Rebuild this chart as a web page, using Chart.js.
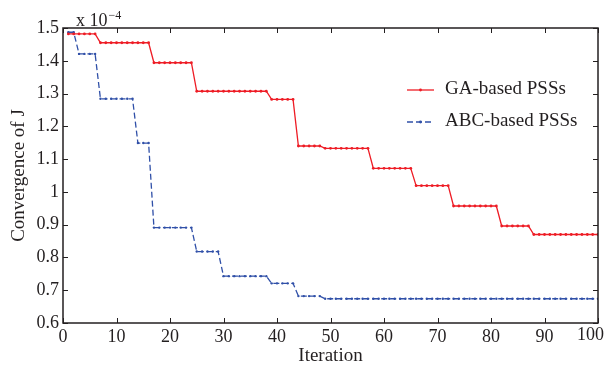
<!DOCTYPE html>
<html>
<head>
<meta charset="utf-8">
<script src="https://cdn.jsdelivr.net/npm/chart.js@4"></script>
<style>
  html, body { margin: 0; padding: 0; background: #fff; }
  #wrap { width: 608px; height: 368px; }
</style>
</head>
<body>
<div id="wrap"><canvas id="conv"></canvas></div>
<script>
// iteration axis
const iterations = Array.from({length: 100}, (_, i) => i + 1);
const xTicks = [0, 10, 20, 30, 40, 50, 60, 70, 80, 90, 100];
const yTicks = [0.6, 0.7, 0.8, 0.9, 1.0, 1.1, 1.2, 1.3, 1.4, 1.5];

// values in units of 1e-4
const gaVals = [
  1.482, 1.482, 1.482, 1.482, 1.482, 1.482,
  1.455, 1.455, 1.455, 1.455, 1.455, 1.455, 1.455, 1.455, 1.455, 1.455,
  1.394, 1.394, 1.394, 1.394, 1.394, 1.394, 1.394, 1.394,
  1.307, 1.307, 1.307, 1.307, 1.307, 1.307, 1.307, 1.307, 1.307, 1.307, 1.307, 1.307, 1.307, 1.307,
  1.282, 1.282, 1.282, 1.282, 1.282,
  1.140, 1.140, 1.140, 1.140, 1.140,
  1.133, 1.133, 1.133, 1.133, 1.133, 1.133, 1.133, 1.133, 1.133,
  1.072, 1.072, 1.072, 1.072, 1.072, 1.072, 1.072, 1.072,
  1.019, 1.019, 1.019, 1.019, 1.019, 1.019, 1.019,
  0.957, 0.957, 0.957, 0.957, 0.957, 0.957, 0.957, 0.957, 0.957,
  0.896, 0.896, 0.896, 0.896, 0.896, 0.896,
  0.870, 0.870, 0.870, 0.870, 0.870, 0.870, 0.870, 0.870, 0.870, 0.870, 0.870, 0.870, 0.870
];
const abcVals = [
  1.487, 1.487,
  1.421, 1.421, 1.421, 1.421,
  1.284, 1.284, 1.284, 1.284, 1.284, 1.284, 1.284,
  1.149, 1.149, 1.149,
  0.891, 0.891, 0.891, 0.891, 0.891, 0.891, 0.891, 0.891,
  0.818, 0.818, 0.818, 0.818, 0.818,
  0.743, 0.743, 0.743, 0.743, 0.743, 0.743, 0.743, 0.743, 0.743,
  0.721, 0.721, 0.721, 0.721, 0.721,
  0.682, 0.682, 0.682, 0.682, 0.682,
  0.674, 0.674, 0.674, 0.674, 0.674, 0.674, 0.674, 0.674, 0.674, 0.674,
  0.674, 0.674, 0.674, 0.674, 0.674, 0.674, 0.674, 0.674, 0.674, 0.674,
  0.674, 0.674, 0.674, 0.674, 0.674, 0.674, 0.674, 0.674, 0.674, 0.674,
  0.674, 0.674, 0.674, 0.674, 0.674, 0.674, 0.674, 0.674, 0.674, 0.674,
  0.674, 0.674, 0.674, 0.674, 0.674, 0.674, 0.674, 0.674, 0.674, 0.674,
  0.674, 0.674
];

const ink = '#231f20';
const serif = "'Liberation Serif', 'Times New Roman', serif";
const lastX = xTicks[xTicks.length - 1];

// box + inward ticks, legend, exponent label
const decor = {
  id: 'decor',
  afterDraw(chart) {
    const ctx = chart.ctx;
    const a = chart.chartArea;
    const xs = chart.scales.x, ys = chart.scales.y;
    ctx.save();
    ctx.strokeStyle = ink;
    ctx.lineWidth = 1.5;
    ctx.strokeRect(a.left, a.top, a.right - a.left, a.bottom - a.top);
    ctx.lineWidth = 1;
    const tl = 5;
    ctx.beginPath();
    xTicks.forEach(t => {
      const px = Math.round(xs.getPixelForValue(t)) + 0.5;
      ctx.moveTo(px, a.bottom); ctx.lineTo(px, a.bottom - tl);
      ctx.moveTo(px, a.top); ctx.lineTo(px, a.top + tl);
    });
    yTicks.forEach(t => {
      const py = Math.round(ys.getPixelForValue(t)) + 0.5;
      ctx.moveTo(a.left, py); ctx.lineTo(a.left + tl, py);
      ctx.moveTo(a.right, py); ctx.lineTo(a.right - tl, py);
    });
    ctx.stroke();

    // last x label kept inside the canvas, like the original
    ctx.fillStyle = ink;
    ctx.font = '18px ' + serif;
    ctx.textAlign = 'right';
    ctx.textBaseline = 'top';
    ctx.fillText(String(lastX), 604, a.bottom + 3);
    ctx.textAlign = 'left';

    // exponent
    ctx.textBaseline = 'alphabetic';
    ctx.fillText('x 10', 76, 26);
    const w = ctx.measureText('x 10').width;
    ctx.font = '12px ' + serif;
    ctx.fillText('\u22124', 76 + w + 1, 19);

    // legend
    const lx = 407, ly = [90, 122];
    chart.data.datasets.forEach((ds, i) => {
      const y = ly[i];
      ctx.strokeStyle = ds.borderColor;
      ctx.lineWidth = 1.3;
      ctx.setLineDash(ds.borderDash || []);
      ctx.beginPath();
      ctx.moveTo(lx, y); ctx.lineTo(lx + 27, y);
      ctx.stroke();
      ctx.setLineDash([]);
      ctx.fillStyle = ds.borderColor;
      ctx.beginPath();
      ctx.arc(lx + 13.5, y, 1.4, 0, Math.PI * 2);
      ctx.fill();
      ctx.fillStyle = ink;
      ctx.font = '19px ' + serif;
      ctx.textBaseline = 'middle';
      ctx.fillText(ds.label, 445, y - 1);
    });
    ctx.restore();
  }
};

const ctx = document.getElementById('conv').getContext('2d');
new Chart(ctx, {
  type: 'line',
  data: {
    datasets: [{
      label: 'GA-based PSSs',
      data: gaVals.map((v, i) => ({x: iterations[i], y: v})),
      borderColor: '#ee1c25',
      backgroundColor: '#ee1c25',
      borderWidth: 1.3,
      pointRadius: 1.4,
      pointBorderWidth: 0,
      tension: 0,
      fill: false
    }, {
      label: 'ABC-based PSSs',
      data: abcVals.map((v, i) => ({x: iterations[i], y: v})),
      borderColor: '#3050a8',
      backgroundColor: '#3050a8',
      borderWidth: 1.3,
      borderDash: [6, 3],
      pointRadius: 1.2,
      pointBorderWidth: 0,
      tension: 0,
      fill: false
    }]
  },
  options: {
    responsive: true,
    maintainAspectRatio: false,
    animation: false,
    layout: { padding: { top: 28, right: 10, left: 0, bottom: 0 } },
    plugins: {
      legend: { display: false },
      tooltip: { enabled: false }
    },
    scales: {
      x: {
        type: 'linear',
        min: 0,
        max: 100,
        afterFit: s => { s.height = 45; s.paddingLeft = 0; s.paddingRight = 0; },
        afterBuildTicks: s => { s.ticks = xTicks.map(v => ({value: v})); },
        grid: { display: false, drawTicks: false },
        border: { display: false },
        ticks: {
          color: ink,
          font: { family: serif, size: 18 },
          padding: 3,
          maxRotation: 0,
          callback: v => (v === lastX ? '' : String(v))
        },
        title: { display: true, text: 'Iteration', color: ink, font: { family: serif, size: 19 }, padding: { top: 0, bottom: 1 } }
      },
      y: {
        min: 0.6,
        max: 1.5,
        afterFit: s => { s.width = 63; s.paddingTop = 0; s.paddingBottom = 0; },
        afterBuildTicks: s => { s.ticks = yTicks.map(v => ({value: v})); },
        grid: { display: false, drawTicks: false },
        border: { display: false },
        ticks: {
          color: ink,
          font: { family: serif, size: 18 },
          padding: 4,
          callback: v => String(Math.round(v * 10) / 10)
        },
        title: { display: true, text: 'Convergence of J', color: ink, font: { family: serif, size: 19 }, padding: { top: 8, bottom: 0 } }
      }
    }
  },
  plugins: [decor]
});
</script>
</body>
</html>
